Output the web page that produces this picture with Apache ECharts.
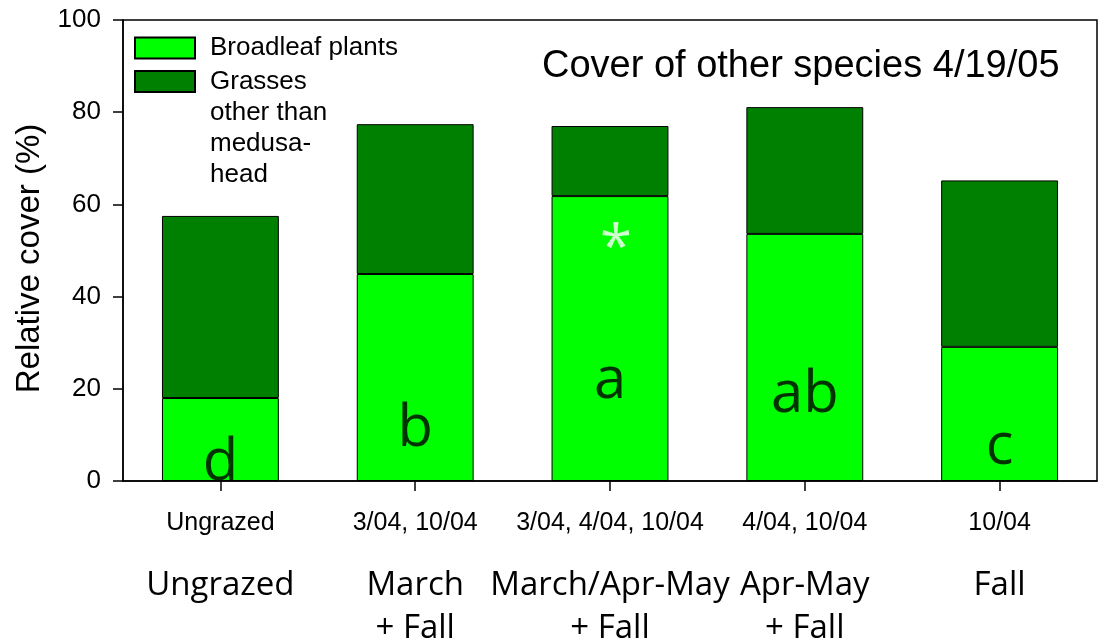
<!DOCTYPE html>
<html>
<head>
<meta charset="utf-8">
<script src="https://cdn.jsdelivr.net/npm/echarts@6/dist/echarts.min.js"></script>
<style>
  html, body { margin: 0; padding: 0; background: #fff; }
  #chart { width: 1107px; height: 643px; }
</style>
</head>
<body>
<div id="chart"></div>
<script>
// grazing dates (first label row) and treatment names (second row)
const grazingDates = ['Ungrazed', '3/04, 10/04', '3/04, 4/04, 10/04', '4/04, 10/04', '10/04']
const treatments = ['Ungrazed', 'March\n+ Fall', 'March/Apr-May\n+ Fall', 'Apr-May\n+ Fall', 'Fall']

// relative cover (%)
const broadleaf = [18.0, 44.9, 61.8, 53.6, 29.1]
const grasses = [39.5, 32.5, 15.2, 27.5, 36.1]

// significance letters and the height they sit at
const letters = ['d', 'b', 'a', 'ab', 'c']
const letterY = [3.8, 11.1, 21.6, 18.5, 7.2]
const asterisk = [2, 50.1]

const arial = "'Liberation Sans', Arial, sans-serif"
const calibri = "'Open Sans', sans-serif"

const chart = echarts.init(document.getElementById('chart'))

const options = {
  animation: false,
  textStyle: { color: '#000', fontFamily: arial },
  title: {
    text: 'Cover of other species 4/19/05',
    left: 542,
    top: 48,
    padding: 0,
    textStyle: { fontSize: 38, fontWeight: 'normal', fontFamily: arial, color: '#000' }
  },
  grid: {
    left: 123,
    right: 10,
    top: 20,
    bottom: 162,
    show: true,
    borderColor: '#000',
    borderWidth: 1.5,
    outerBoundsMode: 'none'
  },
  legend: [
    {
      data: ['Broadleaf plants'],
      left: 134,
      top: 35,
      padding: 0,
      icon: 'rect',
      itemWidth: 60,
      itemHeight: 21,
      textStyle: { fontSize: 26, lineHeight: 21, fontFamily: arial, color: '#000', padding: [0, 0, 0, 10] }
    },
    {
      // leading blank lines keep the first text line level with the box
      data: ['Grasses other than medusa-head'],
      left: 134,
      top: -27,
      padding: 0,
      icon: 'rect',
      itemWidth: 60,
      itemHeight: 21,
      formatter: () => '\n\n\nGrasses\nother than\nmedusa-\nhead',
      textStyle: { fontSize: 26, lineHeight: 31, fontFamily: arial, color: '#000', padding: [0, 0, 0, 10] }
    }
  ],
  xAxis: [
    {
      type: 'category',
      data: grazingDates,
      position: 'bottom',
      axisLine: { lineStyle: { color: '#000', width: 1.5 } },
      axisTick: { show: true, alignWithLabel: true, length: 10, lineStyle: { color: '#000', width: 1.5 } },
      axisLabel: { interval: 0, fontSize: 25, margin: 30, color: '#000', fontFamily: arial }
    },
    {
      type: 'category',
      data: treatments,
      position: 'bottom',
      axisLine: { show: false },
      axisTick: { show: false },
      axisLabel: { interval: 0, fontSize: 33, lineHeight: 43, margin: 83, color: '#000', fontFamily: calibri }
    }
  ],
  yAxis: {
    type: 'value',
    min: 0,
    max: 100,
    interval: 20,
    name: 'Relative cover (%)',
    nameLocation: 'middle',
    nameGap: 76,
    nameTextStyle: { fontSize: 33, fontFamily: arial, color: '#000', padding: [0, 16, 0, 0] },
    axisLine: { show: true, lineStyle: { color: '#000', width: 1.5 } },
    axisTick: { show: true, length: 10, lineStyle: { color: '#000', width: 1.5 } },
    axisLabel: { fontSize: 26, margin: 22, color: '#000', fontFamily: arial },
    splitLine: { show: false }
  },
  series: [
    {
      name: 'Broadleaf plants',
      type: 'bar',
      stack: 'cover',
      barWidth: '60%',
      data: broadleaf,
      itemStyle: { color: '#00ff00', borderColor: '#000', borderWidth: 1 }
    },
    {
      name: 'Grasses other than medusa-head',
      type: 'bar',
      stack: 'cover',
      barWidth: '60%',
      data: grasses,
      itemStyle: { color: '#008000', borderColor: '#000', borderWidth: 1 }
    },
    {
      name: 'letters',
      type: 'scatter',
      data: letterY,
      symbolSize: 1,
      silent: true,
      itemStyle: { color: 'transparent' },
      label: {
        show: true,
        position: 'inside',
        fontSize: 58,
        fontFamily: calibri,
        color: '#000',
        formatter: ({ dataIndex }) => letters[dataIndex]
      }
    },
    {
      name: 'asterisk',
      type: 'scatter',
      data: [asterisk],
      symbolSize: 1,
      silent: true,
      itemStyle: { color: 'transparent' },
      label: {
        show: true,
        position: 'inside',
        offset: [6, 0],
        fontSize: 58,
        fontFamily: calibri,
        color: '#fff',
        formatter: '*'
      }
    }
  ]
}

chart.setOption(options)
</script>
</body>
</html>
